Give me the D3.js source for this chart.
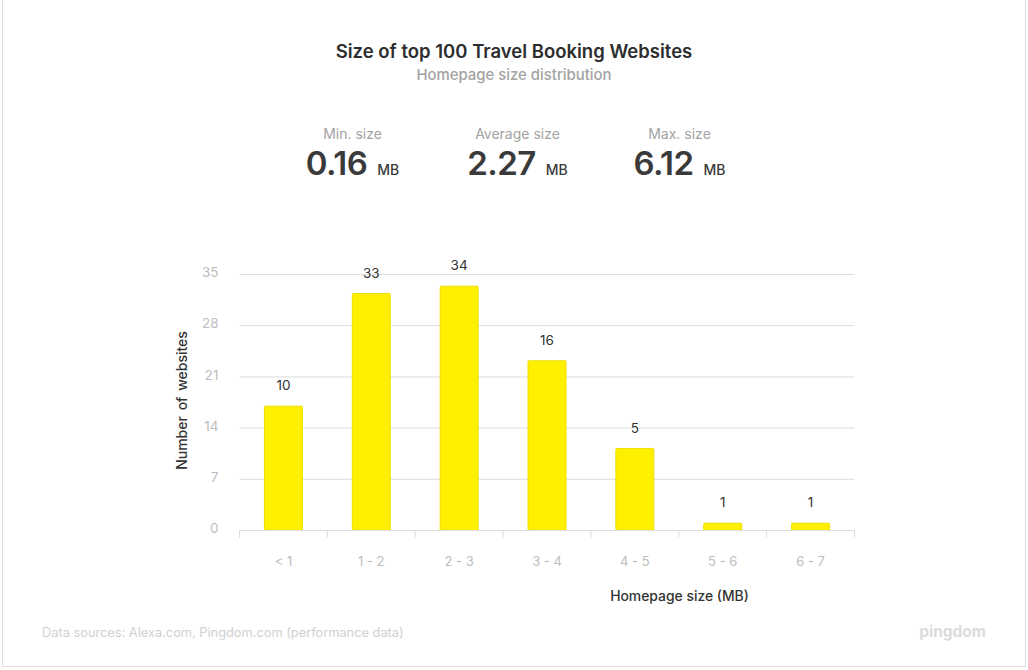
<!DOCTYPE html>
<html>
<head>
<meta charset="utf-8">
<script src="https://cdn.jsdelivr.net/npm/d3@7"></script>
<style>
  html, body { margin: 0; padding: 0; background: #fff; }
  svg { display: block; font-family: "Inter", "Open Sans", sans-serif; }
</style>
</head>
<body>
<div id="chart"></div>
<script>
const categories = ["< 1", "1 - 2", "2 - 3", "3 - 4", "4 - 5", "5 - 6", "6 - 7"];
// Bar heights as drawn against the axis (they differ from the printed labels)
const barHeights = [17, 32.4, 33.4, 23.2, 11.2, 1, 1];
const barLabels = [10, 33, 34, 16, 5, 1, 1];
const yTicks = [0, 7, 14, 21, 28, 35];
const statNames = ["Min. size", "Average size", "Max. size"];
const statValues = ["0.16", "2.27", "6.12"];

const width = 1028;
const height = 670;

const svg = d3
  .select("#chart")
  .append("svg")
  .attr("width", width)
  .attr("height", height);

// Card frame
svg
  .append("rect")
  .attr("x", 2.5)
  .attr("y", -3)
  .attr("width", 1023)
  .attr("height", 669.5)
  .attr("fill", "#fff")
  .attr("stroke", "#dcdcdc");

svg
  .append("text")
  .attr("x", 514)
  .attr("y", 58)
  .attr("text-anchor", "middle")
  .attr("font-size", 18.5)
  .attr("font-weight", 600)
  .attr("fill", "#2d2d2d")
  .text("Size of top 100 Travel Booking Websites");

svg
  .append("text")
  .attr("x", 514)
  .attr("y", 80)
  .attr("text-anchor", "middle")
  .attr("font-size", 14.9)
  .attr("font-weight", 500)
  .attr("fill", "#a3a3a3")
  .text("Homepage size distribution");

// Stat blocks
const statCenters = [352.5, 517.5, 679.5];
const stats = svg
  .selectAll(".stat")
  .data(statNames)
  .enter()
  .append("g")
  .attr("class", "stat")
  .attr("transform", (d, i) => `translate(${statCenters[i]},0)`);

stats
  .append("text")
  .attr("y", 139)
  .attr("text-anchor", "middle")
  .attr("font-size", 14)
  .attr("fill", "#a3a3a3")
  .text((d) => d);

const statLine = stats
  .append("text")
  .attr("y", 175)
  .attr("text-anchor", "middle")
  .attr("fill", "#3a3a3a");

statLine
  .append("tspan")
  .attr("font-size", 33)
  .attr("font-weight", 600)
  .attr("letter-spacing", -0.5)
  .text((d, i) => statValues[i]);

statLine
  .append("tspan")
  .attr("dx", 10)
  .attr("font-size", 14)
  .attr("font-weight", 500)
  .text("MB");

// Scales
const x = d3.scaleBand().domain(categories).range([239.5, 854.5]);
const xEdges = d3.scaleLinear().domain([0, categories.length]).range([239.5, 854.5]);
const y = d3.scaleLinear().domain([0, 35]).range([530.5, 274.5]);

// Gridlines and y labels
const yAxis = svg
  .append("g")
  .attr("transform", "translate(239.5,0)")
  .call(d3.axisLeft(y).offset(0).tickValues(yTicks).tickSize(-615).tickPadding(21));
yAxis.select(".domain").remove();
yAxis.selectAll("line").attr("stroke", "#dcdcdc");
yAxis
  .selectAll("text")
  .attr("fill", "#bdbdbd")
  .attr("font-size", 13.5)
  .attr("font-family", "Inter")
  .attr("dy", "0.2em");

// Bars
svg
  .selectAll(".bar")
  .data(barHeights)
  .enter()
  .append("rect")
  .attr("class", "bar")
  .attr("x", (d, i) => x(categories[i]) + x.bandwidth() / 2 - 19)
  .attr("y", (d) => y(d))
  .attr("width", 38)
  .attr("height", (d) => y(0) - y(d))
  .attr("rx", 1)
  .attr("fill", "#fff000")
  .attr("stroke", "#ece000");

svg
  .selectAll(".barLabel")
  .data(barLabels)
  .enter()
  .append("text")
  .attr("class", "barLabel")
  .attr("x", (d, i) => x(categories[i]) + x.bandwidth() / 2)
  .attr("y", (d, i) => y(barHeights[i]) - 16)
  .attr("text-anchor", "middle")
  .attr("font-size", 13.5)
  .attr("fill", "#333")
  .text((d) => d);

// X axis: ticks on the band edges, labels in the band centres
const xTicksAxis = svg
  .append("g")
  .attr("transform", "translate(0,530.5)")
  .call(
    d3
      .axisBottom(xEdges)
      .offset(0)
      .tickValues(d3.range(categories.length + 1))
      .tickSize(7)
      .tickSizeOuter(0)
      .tickFormat("")
  );
xTicksAxis.selectAll("line, path").attr("stroke", "#dcdcdc");

const xLabels = svg
  .append("g")
  .attr("transform", "translate(0,530.5)")
  .call(d3.axisBottom(x).offset(0).tickSize(0).tickPadding(26));
xLabels.select(".domain").remove();
xLabels
  .selectAll("text")
  .attr("fill", "#bdbdbd")
  .attr("font-size", 13)
  .attr("font-family", "Inter");

svg
  .append("text")
  .attr("x", 679.5)
  .attr("y", 601)
  .attr("text-anchor", "middle")
  .attr("font-size", 13.9)
  .attr("font-weight", 500)
  .attr("fill", "#333")
  .text("Homepage size (MB)");

svg
  .append("text")
  .attr("transform", "translate(187,400.5) rotate(-90)")
  .attr("text-anchor", "middle")
  .attr("font-size", 14)
  .attr("font-weight", 500)
  .attr("word-spacing", 2)
  .attr("fill", "#333")
  .text("Number of websites");

svg
  .append("text")
  .attr("x", 42)
  .attr("y", 637)
  .attr("font-size", 12.8)
  .attr("fill", "#d0d0d0")
  .text("Data sources: Alexa.com, Pingdom.com (performance data)");

svg
  .append("text")
  .attr("x", 986)
  .attr("y", 637)
  .attr("text-anchor", "end")
  .attr("font-size", 15.5)
  .attr("font-weight", 700)
  .attr("fill", "#dcdcdc")
  .text("pingdom");
</script>
</body>
</html>
